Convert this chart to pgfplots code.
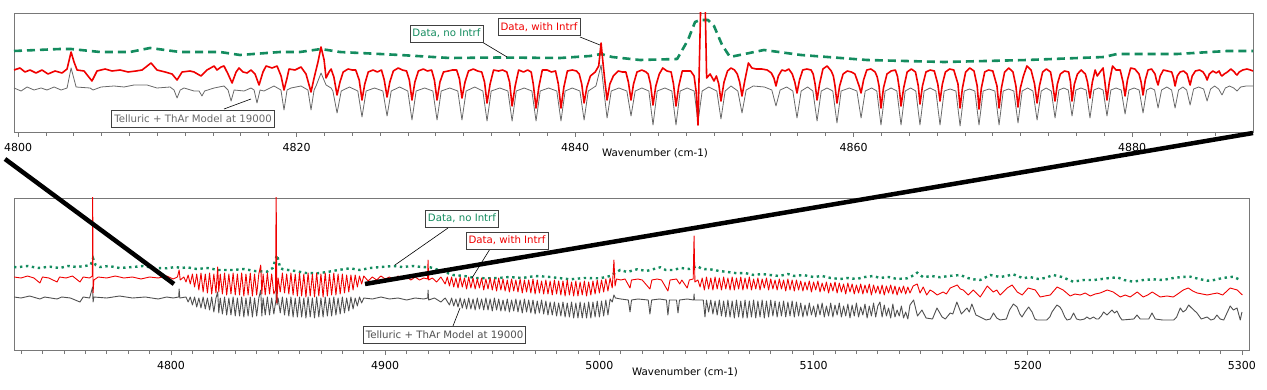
\documentclass[border=0pt]{standalone}
\usepackage{fontspec}
\setmainfont{DejaVu Sans}
\usepackage{pgfplots}
\pgfplotsset{compat=1.18}
\definecolor{dgreen}{RGB}{20,140,95}
\definecolor{dred}{RGB}{240,0,0}
\definecolor{mgray}{RGB}{105,105,105}
\definecolor{bgray}{RGB}{80,80,80}
\definecolor{framegray}{RGB}{120,120,120}
\pgfplotsset{panel/.style={scale only axis, axis line style={framegray, line width=0.9pt},
  ytick=\empty, xtick pos=bottom, tick align=outside, tick style={framegray, line width=0.7pt},
  major tick length=5pt, minor tick length=4pt, clip=true,
  xticklabel style={font=\fontsize{11}{13}\selectfont, text=black, yshift=-2.5pt},
  /pgf/number format/1000 sep={}, /pgf/number format/assume math mode=true}}
\newcommand{\lblfont}{\fontsize{10.2}{12}\selectfont}
\begin{document}
\begin{tikzpicture}
\path[use as bounding box] (0pt,0pt) rectangle (1267pt,-390pt);
% ---------------- top panel ----------------
\begin{axis}[panel, at={(14pt,-13pt)}, anchor=north west, width=1239pt, height=119pt,
  xmin=4799.71, xmax=4888.69, ymin=0, ymax=119,
  xtick={4800,4820,4840,4860,4880}, minor xtick={4802,4804,...,4888}]
\addplot[dgreen, line width=2.6pt, dash pattern=on 8pt off 5pt, line join=round] coordinates {
(4799.71,81)(4803.02,83)(4803.81,83)(4805.89,80)(4808.04,80)(4809.48,84)(4811.63,80)(4814.51,80)(4815.94,77)(4818.82,80)(4820.25,80)(4821.76,83)(4823.12,80)(4827.43,77)(4831.02,74)(4834.61,74.5)(4838.92,74)(4841.08,76)(4841.87,78)(4842.66,75)(4844.67,72)(4847.33,73)(4848.11,92)(4848.62,110)(4848.98,112)(4849.55,112)(4849.98,106)(4850.56,87)(4851.13,75)(4853.57,82)(4856.23,77)(4860.97,72)(4866.50,70)(4872.46,72)(4877.99,75)(4878.92,78)(4883.23,78)(4886.82,81)(4888.69,81)};
\addplot[mgray, line width=0.8pt, line join=round] coordinates {
(4799.71,44)(4800.22,41)(4800.65,45)(4801.15,42)(4801.65,44)(4802.08,42)(4802.59,45)(4803.09,42)(4803.52,44)(4803.81,64)(4804.17,45)(4805.17,44)(4805.39,42)(4805.96,45)(4806.89,46)(4807.61,45)(4808.33,47)(4808.91,47)(4809.26,47)(4809.98,44)(4810.92,45)(4811.2,42)(4811.42,34)(4811.65,42)(4811.92,44)(4812.64,41)(4813.0,41)(4813.21,36)(4813.4,41)(4814.08,44)(4814.79,46)(4815.08,42)(4815.30,31)(4815.52,42)(4816.23,41)(4816.73,44)(4816.95,42)(4817.16,29)(4817.38,42)(4817.67,41)(4818.38,46)(4818.88,42)(4819.10,22)(4819.32,42)(4819.60,44)(4820.32,46)(4820.82,42)(4821.04,22)(4821.26,42)(4821.40,46)(4821.76,59)(4822.12,47)(4822.48,44)
(4822.61,41)(4822.91,19)(4823.21,41)(4823.8,45)(4824.40,41)(4824.70,15)(4825.00,41)(4825.6,44)(4826.20,41)(4826.50,16)(4826.80,41)(4827.4,45)(4827.99,41)(4828.29,12)(4828.59,41)(4829.2,44)(4829.79,41)(4830.09,12)(4830.39,41)(4831.0,44)(4831.58,41)(4831.88,12)(4832.18,41)(4832.8,45)(4833.38,41)(4833.68,11)(4833.98,41)(4834.6,44)(4835.18,41)(4835.48,11)(4835.78,41)(4836.35,44)(4836.90,41)(4837.20,11)(4837.50,41)(4838.1,44)(4838.69,41)(4838.99,11)(4839.29,41)(4839.8,44)(4840.35,41)(4840.65,12)(4840.95,41)(4841.5,46)(4841.87,67)(4842.05,44)(4842.30,14)(4842.60,41)(4843.15,44)(4843.72,41)(4844.02,16)(4844.32,41)(4844.8,44)(4845.30,41)(4845.60,7)(4845.90,41)(4846.45,44)(4846.95,41)(4847.25,7)(4847.55,41)(4848.05,44)(4848.55,41)(4848.83,10)(4849.13,41)(4849.6,45)(4850.18,41)(4850.48,13)(4850.78,41)(4851.2,46)(4851.69,41)(4851.99,19)(4852.29,42)(4852.8,46)(4853.6,45)(4854.13,42)(4854.43,26)(4854.73,42)(4855.2,45)(4855.64,41)(4855.94,14)(4856.24,41)(4856.7,45)(4857.08,41)(4857.38,11)(4857.68,41)(4858.1,44)(4858.51,41)(4858.81,9)(4859.11,41)(4859.7,44)(4860.24,41)(4860.54,14)(4860.84,41)(4861.3,44)(4861.67,41)(4861.97,7)(4862.27,41)(4862.7,44)(4863.11,41)(4863.41,7)(4863.71,41)(4864.1,44)(4864.47,41)(4864.77,7)(4865.07,41)(4865.5,44)(4865.91,41)(4866.21,7)(4866.51,41)(4866.93,43)(4867.35,41)(4867.65,6)(4867.95,41)(4868.33,43)(4868.71,41)(4869.01,7)(4869.31,41)(4869.73,43)(4870.15,41)(4870.45,7)(4870.75,41)(4871.13,43)(4871.51,41)(4871.81,9)(4872.11,41)(4872.5,44)(4872.88,41)(4873.18,12)(4873.48,41)(4873.83,44)(4874.2,41)(4874.47,14)(4874.75,42)(4875.1,44)(4875.42,42)(4875.69,16)(4875.97,42)(4876.33,44)(4876.7,42)(4876.98,14)(4877.26,42)(4877.6,44)(4877.92,42)(4878.20,16)(4878.48,42)(4878.85,44)(4879.22,42)(4879.50,18)(4879.78,42)(4880.15,44)(4880.51,42)(4880.79,19)(4881.05,42)(4881.35,44)(4881.62,42)(4881.87,24)(4882.12,42)(4882.5,45)(4882.84,42)(4883.09,24)(4883.34,42)(4883.65,45)(4883.92,42)(4884.17,27)(4884.42,43)(4884.78,45)(4885.14,43)(4885.39,31)(4885.64,43)(4885.93,46)(4886.22,43)(4886.46,37)(4886.7,44)(4887.0,46)(4887.3,44)(4887.54,41)(4887.8,45)(4888.2,46)(4888.69,46)};
\addplot[dred, line width=1.6pt, line join=round] coordinates {
(4799.71,62)(4800.14,64)(4800.50,60)(4800.86,62)(4801.29,59)(4801.72,62)(4802.15,58)(4802.66,61)(4803.16,59)(4803.52,63)(4803.81,80)(4804.02,70)(4804.24,62)(4804.74,61)(4805.31,51)(4805.67,61)(4806.25,63)(4806.75,61)(4807.33,62)(4807.90,60)(4808.47,61)(4808.91,62)(4809.55,69)(4809.98,62)(4810.56,60)(4811.06,58)(4811.42,52)(4811.78,60)(4812.35,61)(4812.64,60)(4813.14,56)(4813.57,62)(4814.08,66)(4814.29,62)(4814.58,65)(4814.79,66)(4815.08,58)(4815.37,49)(4815.66,60)(4815.87,64)(4816.16,60)(4816.45,59)(4816.73,62)(4817.02,58)(4817.31,47)(4817.59,60)(4817.81,66)(4818.24,64)(4818.60,66)(4818.89,56)(4819.10,42)(4819.32,54)(4819.46,63)(4819.89,62)(4820.32,65)(4820.68,58)(4821.04,40)(4821.26,54)(4821.54,70)(4821.76,85)(4821.98,72)(4822.12,54)(4822.33,60)(4822.48,63)
(4822.68,55)(4822.91,37)(4823.12,50)(4823.35,60)(4823.7,63)(4824.0,62)(4824.25,62)(4824.5,52)
(4824.70,32)(4824.9,48)(4825.15,60)(4825.5,62)(4825.8,60)(4826.1,62)(4826.3,52)
(4826.5,35)(4826.7,50)(4826.95,61)(4827.3,64)(4827.6,62)(4827.9,61)(4828.1,52)
(4828.29,32)(4828.5,50)(4828.75,61)(4829.1,63)(4829.4,61)(4829.7,62)(4829.9,52)
(4830.09,32)(4830.3,50)(4830.55,60)(4830.9,61)(4831.2,62)(4831.5,62)(4831.7,53)
(4831.88,34)(4832.1,50)(4832.35,61)(4832.7,63)(4833.0,61)(4833.3,60)(4833.5,50)
(4833.68,29)(4833.9,48)(4834.15,62)(4834.5,61)(4834.8,62)(4835.1,60)(4835.3,50)
(4835.48,26)(4835.7,46)(4835.95,62)(4836.3,60)(4836.6,62)(4836.85,60)(4837.0,48)
(4837.2,24)(4837.4,45)(4837.65,62)(4838.0,62)(4838.3,60)(4838.6,61)(4838.8,48)
(4838.99,24)(4839.2,45)(4839.45,61)(4839.8,62)(4840.1,61)(4840.3,58)(4840.48,48)
(4840.65,29)(4840.85,45)(4841.1,56)(4841.45,60)(4841.7,66)(4841.87,89)(4842.0,70)(4842.15,50)
(4842.3,32)(4842.5,48)(4842.75,56)(4843.1,61)(4843.4,60)(4843.65,60)(4843.83,50)
(4844.02,32)(4844.2,48)(4844.45,60)(4844.8,62)(4845.1,60)(4845.25,58)(4845.42,48)
(4845.6,27)(4845.8,46)(4846.05,58)(4846.3,64)(4846.6,61)(4846.9,60)(4847.07,48)
(4847.25,26)(4847.45,46)(4847.7,61)(4848.0,61)(4848.3,61)(4848.55,56)(4848.7,40)
(4848.83,7)(4849.02,125)(4849.35,125)(4849.45,54)(4849.7,58)(4849.98,51)(4850.15,56)(4850.32,48)
(4850.48,31)(4850.7,50)(4850.95,61)(4851.2,64)(4851.45,62)(4851.65,58)(4851.82,50)
(4851.99,36)(4852.2,52)(4852.45,69)(4852.7,64)(4853.0,63)(4853.4,63)(4853.8,62)(4854.1,59)(4854.28,54)
(4854.43,46)(4854.6,56)(4854.85,62)(4855.1,61)(4855.35,63)(4855.6,58)(4855.78,50)
(4855.94,39)(4856.12,52)(4856.35,62)(4856.65,63)(4856.95,62)(4857.1,58)(4857.24,48)
(4857.38,32)(4857.56,48)(4857.8,63)(4858.1,66)(4858.4,61)(4858.55,56)(4858.67,46)
(4858.81,29)(4859.0,46)(4859.25,58)(4859.55,61)(4859.85,60)(4860.1,58)(4860.25,52)(4860.4,46)
(4860.54,39)(4860.72,52)(4860.95,62)(4861.25,63)(4861.55,60)(4861.7,55)(4861.83,46)
(4861.97,24)(4862.15,44)(4862.4,58)(4862.7,61)(4863.0,62)(4863.15,56)(4863.28,44)
(4863.41,26)(4863.6,44)(4863.85,60)(4864.15,63)(4864.45,60)(4864.65,46)
(4864.77,28)(4864.95,46)(4865.2,60)(4865.5,62)(4865.8,61)(4866.05,48)
(4866.21,31)(4866.38,48)(4866.6,60)(4866.9,63)(4867.2,62)(4867.5,48)
(4867.65,24)(4867.82,44)(4868.05,60)(4868.35,64)(4868.65,61)(4868.88,46)
(4869.01,23)(4869.18,44)(4869.42,60)(4869.7,62)(4870.0,61)(4870.3,46)
(4870.45,24)(4870.62,44)(4870.85,60)(4871.15,64)(4871.45,60)(4871.66,46)
(4871.81,25)(4871.98,44)(4872.2,56)(4872.45,66)(4872.75,62)(4873.0,48)
(4873.18,29)(4873.35,46)(4873.58,60)(4873.85,63)(4874.15,60)(4874.3,48)
(4874.47,31)(4874.64,48)(4874.85,58)(4875.15,61)(4875.45,60)(4875.58,50)
(4875.69,31)(4875.86,48)(4876.08,58)(4876.35,62)(4876.65,58)(4876.8,50)
(4876.98,34)(4877.15,50)(4877.35,62)(4877.5,56)(4877.7,60)(4877.92,64)(4878.05,50)
(4878.2,32)(4878.37,50)(4878.6,66)(4878.85,62)(4879.15,62)(4879.35,50)
(4879.5,36)(4879.67,52)(4879.9,64)(4880.2,63)(4880.5,58)(4880.65,50)
(4880.79,37)(4880.95,52)(4881.15,62)(4881.4,63)(4881.65,58)(4881.75,52)
(4881.87,47)(4882.02,56)(4882.25,62)(4882.55,61)(4882.85,60)(4882.98,54)
(4883.09,46)(4883.25,56)(4883.45,60)(4883.7,61)(4883.95,58)(4884.07,52)
(4884.17,47)(4884.32,56)(4884.55,61)(4884.85,62)(4885.1,60)(4885.28,56)
(4885.39,52)(4885.55,58)(4885.8,61)(4886.05,59)(4886.25,61)(4886.38,57)
(4886.46,56)(4886.62,58)(4886.85,60)(4887.1,63)(4887.35,60)(4887.45,58)
(4887.54,57)(4887.7,60)(4887.95,62)(4888.25,63)(4888.5,62)(4888.69,61)};
\end{axis}
% ---------------- bottom panel ----------------
\begin{axis}[panel, at={(14pt,-198pt)}, anchor=north west, width=1235pt, height=152pt,
  xmin=4726.7, xmax=5303.3, ymin=0, ymax=152,
  xtick={4800,4900,5000,5100,5200,5300}, minor xtick={4730,4740,...,5300}]
\addplot[dgreen, line width=2.4pt, dash pattern=on 2.4pt off 3.6pt] coordinates {
(4726.7,83)(4728,82.7)(4733,84)(4738,82)(4743.5,83.3)(4748,82)(4752,84)(4756,83)(4759.8,84)(4762.5,85)(4763.6,91.7)(4764.8,85)(4766.8,83)(4771,84)(4776,82)(4782.3,83)(4787,84)(4792,82)(4798.1,81.7)(4802,83)(4805,82)(4807.5,82.7)(4812,81)(4817,82)(4822,80)(4829,80)(4834,81)(4839,79)(4844.8,78.3)(4847.5,82)(4849.5,95)(4851,82)(4852.3,80.7)(4858,79)(4863,77)(4868.2,76.7)(4873,78)(4878,80)(4883.6,81.7)(4888,80)(4893,82)(4898,83)(4903.7,84)(4908,83)(4913,84)(4917,83)(4921,82.7)(4925,80)(4931.7,75)(4937,74)(4942,72)(4947.6,71.7)(4953,72)(4958,73)(4964,72)(4970,74)(4975.6,73.3)(4981,72)(4986.3,70.7)(4993,72)(5000.3,71.7)(5005,74)(5009.7,80)(5013,78)(5017.6,80.7)(5022,79)(5028.4,82.7)(5031,80)(5034.4,80)(5038,82)(5042,81)(5045.6,84)(5048,81)(5051.7,80.7)(5056,79)(5060,78)(5064.3,76.7)(5068,77)(5072,75)(5076,76)(5079.7,75)(5084,74)(5088,76)(5091,74)(5095.1,75)(5100,73)(5104,74)(5108,72)(5112.4,71)(5116,72)(5120,71)(5124,73)(5127.8,74)(5131,72)(5135,73)(5139,71)(5143.7,71.7)(5146,74)(5148.4,77.3)(5151.2,72.7)(5155,74)(5159.1,72.7)(5163,74)(5168.5,75)(5172,72)(5174.5,70.7)(5177.8,70)(5182.5,75)(5187,73)(5190,74)(5193.2,75.7)(5197.9,71.7)(5201,73)(5205,71)(5208,72)(5211.9,75)(5216,73)(5221.2,68.3)(5226,70)(5231,70)(5237.1,71.7)(5241.8,72.7)(5245,70)(5249.2,68.3)(5254,70)(5258.6,70.7)(5263,70)(5268,72)(5272,73)(5275.9,73.3)(5280,71)(5283.8,69.3)(5287,70)(5291,72)(5296,73.3)(5299.2,70)};
\addplot[bgray, line width=0.9pt, line join=round] coordinates {
(4726.7,53)(4730,52)(4734,54)(4738.8,51)(4741,53)(4746.8,51)(4749,53)(4753,52)(4757.5,48)(4759,53)(4762,52)(4763.4,63)(4763.6,48)(4764,53)(4770,52)(4776,54)(4782,52)(4788,53)(4794,51)(4798,53)(4801,52)(4803.6,53)(4803.8,61)(4804.1,52)(4807,53)(4808,48)(4809,53)(4810,45)(4811,53)(4812,43)(4813,52)(4814,42)(4815,53)(4816,41)(4817,52)(4818,40)(4819,53)(4820,38)(4821,52)(4821.8,58)(4822.3,37)(4823,52)(4824,36)(4825,53)(4826,35)(4827,52)(4828,35)(4829,53)(4830,34)(4831,52)(4832,34)(4833,53)(4834,33)(4835,52)(4836,34)(4837,53)(4838,33)(4839,52)(4840,34)(4841,52)(4841.9,60)(4842.4,34)(4843,52)(4844,35)(4845,53)(4846,35)(4847,52)(4848,36)(4849,50)(4849.2,67)(4849.5,45)(4850,52)(4851,37)(4852,53)(4853,35)(4854,52)(4855,34)(4856,53)(4857,33)(4858,52)(4859,33)(4860,53)(4861,33)(4862,52)(4863,32)(4864,53)(4865,33)(4866,52)(4867,32)(4868,53)(4869,33)(4870,52)(4871,33)(4872,53)(4873,34)(4874,52)(4875,34)(4876,53)(4877,35)(4878,52)(4879,36)(4880,53)(4881,37)(4882,52)(4883,39)(4884,53)(4885,41)(4886,52)(4887,44)(4888,53)(4889,47)(4890,52)(4894,51)(4898,53)(4902,51)(4906,52)(4910,50)(4914,52)(4918,51)(4919.9,52)(4920,60)(4920.3,50)(4923,52)(4926,48)(4928,52)(4930,45)(4931,52)(4932,44)(4933,51)(4934,43)(4935,52)(4936,42)(4937,51)(4938,41)(4939,52)(4940,41)(4941,51)(4942,40)(4943,52)(4944,41)(4945,51)(4946,40)(4947,52)(4948,40)(4949,51)(4950,39)(4951,52)(4952,40)(4953,51)(4954,39)(4955,50)(4956,39)(4957,51)(4958,38)(4959,50)(4960,39)(4961,51)(4962,38)(4963,50)(4964,37)(4965,51)(4966,38)(4967,50)(4968,37)(4969,50)(4970,36)(4971,49)(4972,37)(4973,50)(4974,36)(4975,49)(4976,35)(4977,48)(4978,35)(4979,48)(4980,34)(4981,47)(4982,34)(4983,48)(4984,33)(4985,47)(4986,33)(4987,48)(4988,32)(4989,47)(4990,32)(4991,48)(4992,32)(4993,47)(4994,32)(4995,48)(4996,32)(4997,48)(4998,33)(4999,49)(5000,33)(5001,49)(5002,34)(5003,50)(5004,35)(5005,51)(5006,48)(5006.8,55)(5007.5,52)(5010,51)(5013.5,50)(5014.3,38)(5015,50)(5018,51)(5022.8,50)(5023.6,36)(5024.4,50)(5028,51)(5031.3,50)(5032,35)(5032.7,50)(5036,50)(5036.7,37)(5037.4,50)(5041,51)(5044,50)(5044.2,56)(5044.4,50)(5048.5,50)(5049.3,33)(5050,50)(5051,38)(5052,50)(5053,36)(5054,49)(5055,35)(5056,50)(5057,34)(5058,49)(5059,33)(5060,50)(5061,33)(5062,49)(5063,32)(5064,50)(5065,33)(5066,49)(5067,32)(5068,50)(5069,32)(5070,49)(5071,33)(5072,50)(5073,32)(5074,49)(5075,33)(5076,50)(5077,32)(5078,49)(5079,33)(5080,50)(5081,34)(5082,49)(5083,33)(5084,48)(5085,34)(5086,49)(5087,33)(5088,48)(5089,34)(5090,49)(5091,33)(5092,48)(5093,34)(5094,47)(5095,33)(5096,45)(5097,34)(5098,47)(5099,35)(5100,44)(5101,33)(5102,46)(5103,35)(5104,47)(5105,33)(5106,44)(5107,34)(5108,47)(5109,33)(5110,45)(5111,35)(5112,47)(5113,33)(5114,44)(5115,34)(5116,46)(5117,32)(5118,45)(5119,34)(5120,47)(5121,33)(5122,43)(5123,35)(5124,46)(5125,32)(5126,44)(5127,34)(5128,47)(5129,33)(5130,44)(5131,48)(5132,33)(5133,45)(5134,34)(5135,42)(5136,32)(5137,46)(5138,33)(5139,40)(5140,34)(5141,44)(5142,32)(5143,38)(5144,31)(5145,45)(5146.7,50)(5148.5,34)(5150.6,40)(5152.5,32)(5155.5,31)(5157.6,42)(5160,33)(5161.5,31)(5163.8,37)(5165,36)(5166.9,48)(5169,36)(5171.6,42)(5172.7,38)(5173.9,46)(5175.8,35)(5177.8,33)(5180.5,30)(5182.5,31)(5184.0,37)(5185.5,32)(5187.1,30)(5190,31)(5191.5,40)(5193.3,46)(5195,43)(5196.3,36)(5197.3,33)(5198.7,38)(5200.4,43)(5202,38)(5203.3,31)(5204.3,30)(5208.9,30)(5210.3,33)(5211.3,38)(5213.6,45)(5215,43)(5215.9,40)(5217.3,33)(5218.3,30)(5220,31)(5221.4,37)(5222.8,31)(5224.5,30)(5226.5,31)(5227.6,33)(5229,31)(5230.7,33)(5232,31)(5233,31)(5234.3,34)(5235.4,38)(5237,35)(5239.3,40)(5240.5,37)(5241.6,39)(5243,33)(5244,30)(5249.5,31)(5251,35)(5252.5,31)(5256.5,31)(5258,37)(5259.5,31)(5263,30)(5268.1,30)(5269.5,33)(5271.2,42)(5272.5,38)(5273.8,40)(5275.1,45)(5276.5,42)(5279,37)(5281,31)(5283.7,33)(5285.5,30)(5287,31)(5288.3,35)(5289.8,31)(5291.5,30)(5293,37)(5294.5,44)(5296,40)(5297.7,42)(5299.2,30)(5300,38)};
\addplot[dred, line width=0.9pt, line join=round] coordinates {
(4726.7,73)(4730,72)(4733,74)(4736,72)(4738.8,67)(4740,73)(4743,72)(4746.8,68)(4748,73)(4751,72)(4754,74)(4757.5,68)(4759,73)(4762,72)(4763.3,74)(4763.45,160)(4763.6,57)(4764,70)(4766,73)(4770,72)(4774,74)(4778,72)(4782,73)(4786,71)(4790,73)(4794,72)(4798,74)(4801,71)(4803,73)(4803.8,80)(4804.3,70)(4806,73)(4807,68)(4808,75)(4809,66)(4810,76)(4811,63)(4812,76)(4813,60)(4814,77)(4815,58)(4816,76)(4817,57)(4818,77)(4819,56)(4820,76)(4821,57)(4821.8,83)(4822.3,58)(4823,76)(4824,56)(4825,77)(4826,55)(4827,76)(4828,56)(4829,77)(4830,55)(4831,76)(4832,55)(4833,77)(4834,54)(4835,76)(4836,55)(4837,77)(4838,54)(4839,76)(4840,55)(4841,76)(4841.9,85)(4842.4,56)(4843,76)(4844,55)(4845,77)(4846,56)(4847,76)(4848,56)(4848.8,60)(4849.1,160)(4849.4,47)(4850,72)(4851,58)(4852,77)(4853,57)(4854,76)(4855,56)(4856,77)(4857,55)(4858,76)(4859,54)(4860,77)(4861,54)(4862,76)(4863,53)(4864,77)(4865,54)(4866,76)(4867,53)(4868,77)(4869,54)(4870,76)(4871,53)(4872,77)(4873,54)(4874,76)(4875,55)(4876,77)(4877,55)(4878,76)(4879,56)(4880,76)(4881,57)(4882,75)(4883,58)(4884,75)(4885,60)(4886,75)(4887,63)(4888,74)(4889,66)(4890,74)(4892,69)(4894,73)(4896,70)(4898,74)(4900,71)(4902,73)(4904,70)(4906,74)(4908,71)(4910,73)(4912,70)(4914,73)(4916,70)(4918,72)(4919.8,71)(4920,90)(4920.3,70)(4922,72)(4924,68)(4926,73)(4928,66)(4929,73)(4930,64)(4931,73)(4932,63)(4933,72)(4934,62)(4935,73)(4936,63)(4937,72)(4938,61)(4939,73)(4940,62)(4941,72)(4942,61)(4943,71)(4944,62)(4945,72)(4946,60)(4947,71)(4948,61)(4949,72)(4950,60)(4951,71)(4952,59)(4953,72)(4954,60)(4955,71)(4956,59)(4957,70)(4958,58)(4959,71)(4960,59)(4961,70)(4962,58)(4963,71)(4964,57)(4965,70)(4966,58)(4967,70)(4968,57)(4969,71)(4970,56)(4971,70)(4972,57)(4973,69)(4974,56)(4975,70)(4976,56)(4977,69)(4978,55)(4979,70)(4980,56)(4981,69)(4982,55)(4983,69)(4984,54)(4985,70)(4986,55)(4987,68)(4988,54)(4989,69)(4990,54)(4991,68)(4992,55)(4993,69)(4994,54)(4995,68)(4996,55)(4997,69)(4998,56)(4999,70)(5000,57)(5001,70)(5002,58)(5003,71)(5004,59)(5005,72)(5006,62)(5006.8,90)(5007.3,64)(5008,71)(5010,70)(5012,71)(5014.3,62)(5015,70)(5018,71)(5020,70)(5023.6,61)(5024.5,70)(5027,71)(5029,70)(5032,59)(5033,70)(5036,71)(5037.5,66)(5038.5,70)(5041,62)(5042,70)(5043.8,71)(5044.2,114)(5044.6,68)(5046,70)(5047,63)(5048,72)(5049,60)(5050,73)(5051,61)(5052,72)(5053,60)(5054,73)(5055,61)(5056,72)(5057,60)(5058,73)(5059,61)(5060,72)(5061,60)(5062,73)(5063,60)(5064,72)(5065,61)(5066,73)(5067,60)(5068,72)(5069,61)(5070,73)(5071,60)(5072,71)(5073,61)(5074,72)(5075,60)(5076,71)(5077,62)(5078,72)(5079,60)(5080,71)(5081,61)(5082,70)(5083,60)(5084,71)(5085,61)(5086,70)(5087,59)(5088,71)(5089,60)(5090,70)(5091,59)(5092,70)(5093,60)(5094,69)(5095,59)(5096,68)(5097,60)(5098,69)(5099,58)(5100,68)(5101,60)(5102,69)(5103,58)(5104,67)(5105,59)(5106,68)(5107,57)(5108,67)(5109,59)(5110,68)(5111,57)(5112,67)(5113,58)(5114,66)(5115,56)(5116,67)(5117,58)(5118,66)(5119,56)(5120,65)(5121,57)(5122,66)(5123,56)(5124,65)(5125,57)(5126,66)(5127,55)(5128,65)(5129,57)(5130,64)(5131,56)(5132,65)(5133,55)(5134,64)(5135,57)(5136,65)(5137,56)(5138,64)(5139,55)(5140,63)(5141,57)(5142,64)(5143,56)(5144,63)(5145,57)(5146.5,64)(5148.4,66)(5149.7,57)(5151.2,63)(5152.8,55)(5154.4,60)(5156,58)(5157.7,55)(5160.5,58)(5162,56)(5163.8,62)(5167.1,65)(5168.5,61)(5169.9,60)(5172.2,55)(5174.5,60)(5176,57)(5177.8,53)(5181.1,64)(5183.9,58)(5185.5,60)(5187.1,55)(5190.4,62)(5192.7,65)(5195.1,58)(5197.4,55)(5200.2,62)(5203.5,60)(5205.8,53)(5208,54)(5210.5,55)(5213.7,63)(5216.5,60)(5219.8,54)(5222,56)(5224.5,55)(5226.8,57)(5229.2,54)(5231.5,56)(5233.8,57)(5237.1,60)(5239.9,58)(5243.2,53)(5245.5,55)(5247.8,53)(5251.1,58)(5253.9,53)(5256,55)(5258.1,58)(5261.8,53)(5265,54)(5267.9,53)(5270,56)(5272.6,60)(5274.9,62)(5277,59)(5279.1,57)(5283.8,55)(5286,56)(5288.5,57)(5291,55)(5294.5,62)(5297.8,60)(5300.2,55)};
\end{axis}
% ---------------- annotations ----------------
\tikzset{lbl/.style={draw=black!75, line width=0.6pt, fill=white, inner xsep=2.5pt, inner ysep=0pt, minimum height=17pt, font=\lblfont}}
\draw[black, line width=0.6pt] (224pt,-109pt) -- (251pt,-99pt);
\draw[black, line width=0.6pt] (482pt,-42pt) -- (507pt,-57pt);
\draw[black, line width=0.6pt] (580pt,-37pt) -- (600pt,-45pt);
\node[lbl, text=mgray] at (193pt,-118.5pt) {Telluric + ThAr Model at 19000};
\node[lbl, text=dgreen] at (446.5pt,-33.5pt) {Data, no Intrf};
\node[lbl, text=dred] at (539pt,-27pt) {Data, with Intrf};
\draw[black, line width=0.6pt] (448pt,-228pt) -- (395pt,-265pt);
\draw[black, line width=0.6pt] (490pt,-249pt) -- (472pt,-278pt);
\draw[black, line width=0.6pt] (460pt,-308pt) -- (453pt,-326pt);
\node[lbl, text=dgreen] at (462pt,-218.5pt) {Data, no Intrf};
\node[lbl, text=dred] at (507pt,-240.5pt) {Data, with Intrf};
\node[lbl, text=bgray] at (444.5pt,-334.5pt) {Telluric + ThAr Model at 19000};
\node[font=\fontsize{10.3}{12}\selectfont] at (655pt,-153pt) {Wavenumber (cm-1)};
\node[font=\fontsize{10.3}{12}\selectfont] at (685pt,-372pt) {Wavenumber (cm-1)};
\draw[black, line width=4.5pt] (5pt,-159pt) -- (174pt,-284pt);
\draw[black, line width=4.5pt] (365pt,-284pt) -- (1253pt,-133pt);
\end{tikzpicture}
\end{document}
